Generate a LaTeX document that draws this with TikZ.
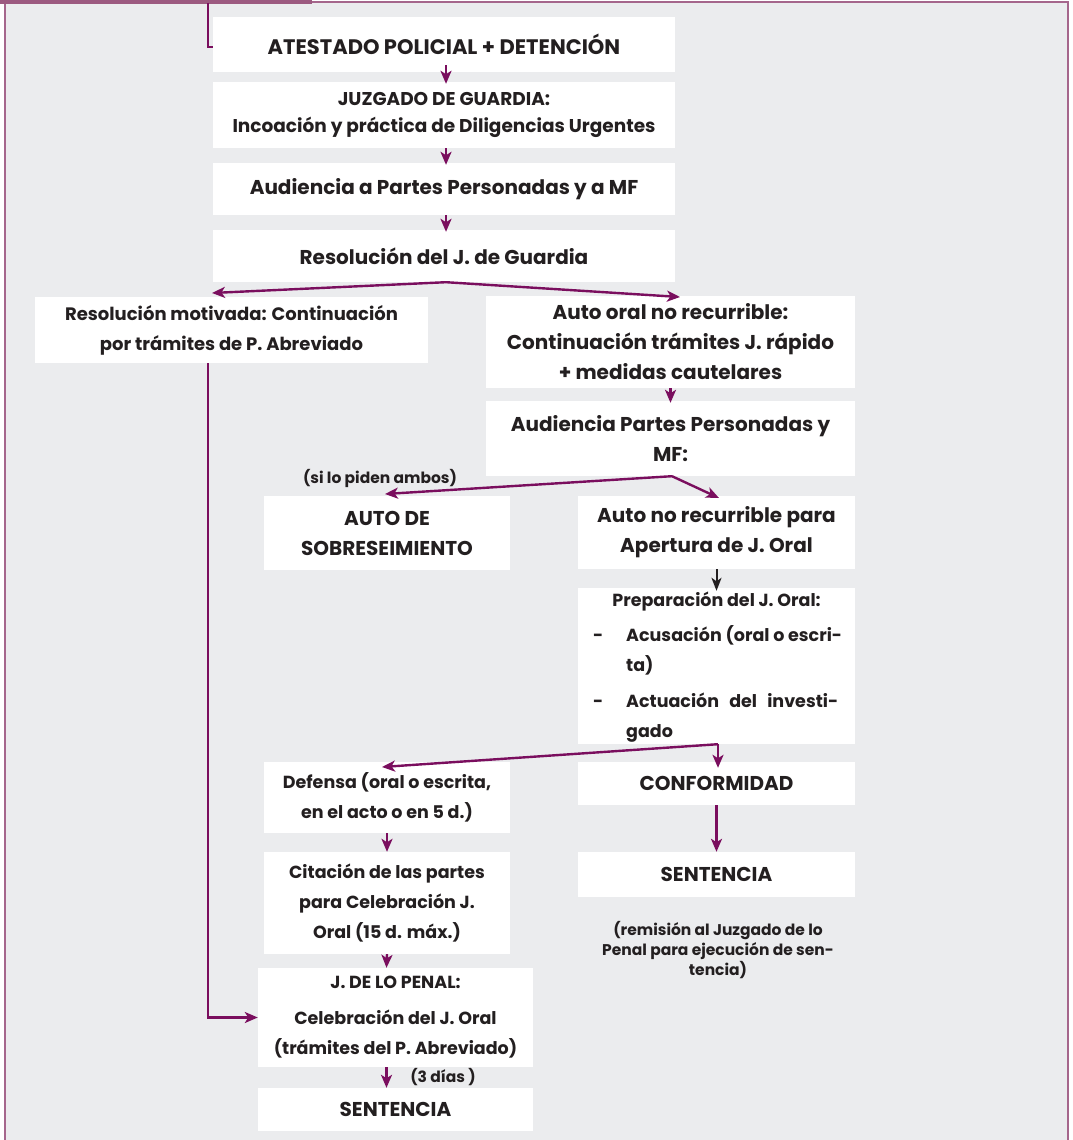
\documentclass[tikz,border=0pt]{standalone}
\usepackage{fontspec}
\setmainfont{Poppins}
\usetikzlibrary{arrows.meta}
\definecolor{bg}{HTML}{EBECEE}
\definecolor{framec}{HTML}{A5668C}
\definecolor{framedark}{HTML}{9C5A80}
\definecolor{arrc}{HTML}{7A0E5E}
\definecolor{txt}{HTML}{231F20}
\newcommand\bigf{\fontsize{20}{30}\selectfont\bfseries}
\newcommand\smallf{\fontsize{17.5}{30}\selectfont\bfseries}
\newcommand\tinyf{\fontsize{15.5}{20}\selectfont\bfseries}
\begin{document}
\begin{tikzpicture}[x=1pt,y=-1pt,
  box/.style={fill=white, inner sep=0pt, text=txt, align=center, font=\bigf},
  sbox/.style={box, font=\smallf},
  lbl/.style={inner sep=0pt, text=txt, align=center, font=\tinyf},
  ptxt/.style={inner sep=0pt, text=txt, font=\smallf, anchor=base west},
  arw/.style={draw=arrc, line width=2.4pt, -{Stealth[length=13pt,width=11pt,inset=3.5pt]}},
  blk/.style={draw=txt, line width=2pt, -{Stealth[length=13pt,width=10pt,inset=3.5pt]}},
  link/.style={draw=arrc, line width=2.4pt}]
\useasboundingbox (0,0) rectangle (1072,1140);
% background and frame
\fill[bg] (5,2) rectangle (1068,1140);
\draw[framec, line width=2.5pt] (5,1140) -- (5,2) -- (1068,2) -- (1068,1140);
\draw[framedark, line width=4.5pt] (0,2) -- (312,2);
% boxes
\node[box, minimum width=462, minimum height=55, font=\fontsize{21}{30}\selectfont\bfseries] (atest) at (444,44.5) {ATESTADO POLICIAL + DETENCIÓN};
\node[sbox, minimum width=462, minimum height=66, font=\fontsize{18.5}{27}\selectfont\bfseries] (juz) at (444,115) {JUZGADO DE GUARDIA:\\Incoación y práctica de Diligencias Urgentes};
\node[box, minimum width=462, minimum height=52] (aud) at (444,189) {Audiencia a Partes Personadas y a MF};
\node[box, minimum width=462, minimum height=52] (resg) at (444,256) {Resolución del J. de Guardia};
\node[sbox, minimum width=393, minimum height=66, font=\fontsize{18}{30}\selectfont\bfseries] (motiv) at (231.5,330) {Resolución motivada: Continuación\\por trámites de P. Abreviado};
\node[box, minimum width=369, minimum height=92] (auto) at (670.5,342) {Auto oral no recurrible:\\Continuación trámites J. rápido\\+ medidas cautelares};
\node[box, minimum width=369, minimum height=75] (audpp) at (670.5,438.5) {Audiencia Partes Personadas y\\MF:};
\node[box, minimum width=246, minimum height=74] (sob) at (387,533) {AUTO DE\\SOBRESEIMIENTO};
\node[box, minimum width=277, minimum height=73] (aper) at (716.5,532.5) {Auto no recurrible para\\Apertura de J. Oral};
\node[box, minimum width=277, minimum height=156] (prep) at (716.5,666) {};
\node[sbox, minimum width=246, minimum height=71] (def) at (387,797.5) {Defensa (oral o escrita,\\en el acto o en 5 d.)};
\node[box, minimum width=277, minimum height=43] (conf) at (716.5,783.5) {CONFORMIDAD};
\node[sbox, minimum width=246, minimum height=102] (cit) at (387,903) {Citación de las partes\\para Celebración J.\\Oral (15 d. máx.)};
\node[box, minimum width=277, minimum height=45] (sentr) at (716.5,874.5) {SENTENCIA};
\node[sbox, minimum width=275, minimum height=99] (penal) at (395.5,1017.5) {J. DE LO PENAL:\\[6pt]Celebración del J. Oral\\(trámites del P. Abreviado)};
\node[box, minimum width=275, minimum height=43] (sentl) at (395.5,1109.5) {SENTENCIA};
% preparation text
\node[sbox, anchor=base] (p0) at (716.5,606) {Preparación del J. Oral:};
\node[ptxt] (p1d) at (593,641) {-};
\node[ptxt] (p1) at (626,641) {Acusación (oral o escri-};
\node[ptxt] (p2) at (626,671) {ta)};
\node[ptxt] (p3d) at (593,707) {-};
\node[ptxt] (p3) at (626,707) {\makebox[212pt][s]{Actuación\hfill del\hfill investi-}};
\node[ptxt] (p4) at (626,737) {gado};
% labels
\node[lbl] (sil) at (380,478) {(si lo piden ambos)};
\node[lbl] (tres) at (443,1077) {(3 días )};
\node[lbl] (rem) at (718,950) {(remisión al Juzgado de lo\\Penal para ejecución de sen-\\tencia)};
% coordinates
\coordinate (t0) at (208,3);
\coordinate (m1) at (208,363);
\coordinate (L1) at (212,293);
\coordinate (R1) at (680,297);
\coordinate (L2) at (385,494);
\coordinate (R2) at (719,498);
\coordinate (L3) at (382,767);
% connectors
\draw[link] (t0) |- ([yshift=-2.5pt]atest.west);
\draw[arw] ([xshift=2pt,yshift=7pt]atest.south) -- ([xshift=2pt,yshift=-2pt]juz.north);
\draw[arw] ([xshift=2pt]juz.south) -- ([xshift=2pt,yshift=-2pt]aud.north);
\draw[arw] ([xshift=2pt]aud.south) -- ([xshift=2pt,yshift=-2pt]resg.north);
\draw[arw] ([xshift=2pt]resg.south) -- (L1);
\draw[arw] ([xshift=2pt]resg.south) -- (R1);
\draw[arw] (m1) |- (penal.west);
\draw[arw] (auto.south) -- ([yshift=-2pt]audpp.north);
\draw[arw] ([xshift=1.5pt]audpp.south) -- (L2);
\draw[arw] ([xshift=1.5pt]audpp.south) -- (R2);
\draw[blk] (aper.south) -- ([yshift=-3pt]prep.north);
\draw[arw] ([xshift=1.5pt]prep.south) -- (L3);
\draw[arw] ([xshift=1.5pt]prep.south) -- ([xshift=1.5pt,yshift=-6pt]conf.north);
\draw[arw] (conf.south) -- (sentr.north);
\draw[arw] (def.south) -- (cit.north);
\draw[arw] (cit.south) -- ([xshift=-9pt]penal.north);
\draw[arw] ([xshift=-9pt]penal.south) -- ([xshift=-9pt]sentl.north);
\end{tikzpicture}
\end{document}
